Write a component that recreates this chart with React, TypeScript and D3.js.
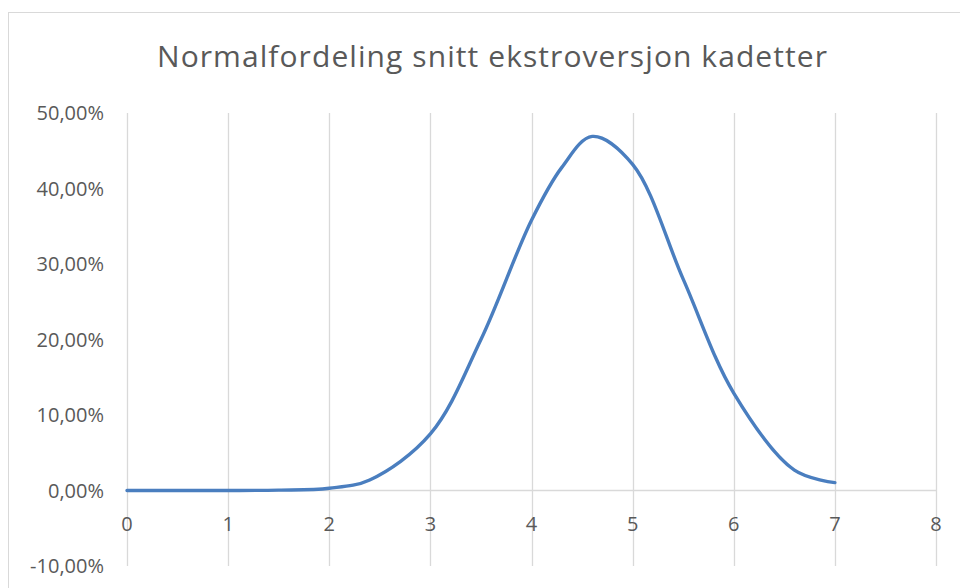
import React from 'react';
import * as d3 from 'd3';

// gjennomsnitt ekstroversjon (x) og sannsynlighetstetthet (y), lest av bildet
const xValues = [0, 0.5, 1, 1.5, 2, 2.4, 3, 3.5, 4, 4.3, 4.6, 5, 5.5, 6, 6.6, 7];
const yValues = [0, 0, 0, 0.0005, 0.003, 0.014, 0.075, 0.2, 0.358, 0.428, 0.469, 0.432, 0.28, 0.129, 0.027, 0.0105];

const xTicks = [0, 1, 2, 3, 4, 5, 6, 7, 8];
const yTicks = [-0.1, 0, 0.1, 0.2, 0.3, 0.4, 0.5];

const title = 'Normalfordeling snitt ekstroversjon kadetter';

const W = 960;
const H = 588;
const FONT = '"Open Sans", "Noto Sans", sans-serif';
const TEXT = '#595959';
const GRID = '#d9d9d9';

const App: React.FC = () => {
  const x = d3.scaleLinear().domain([0, 8]).range([127, 936]);
  const y = d3.scaleLinear().domain([-0.1, 0.5]).range([566, 113]);

  const points = xValues.map((v, i) => [v, yValues[i]] as [number, number]);
  const line = d3.line<[number, number]>()
    .x(d => x(d[0]))
    .y(d => y(d[1]))
    .curve(d3.curveCatmullRom.alpha(0.5));

  const fmt = (v: number) => (v * 100).toFixed(2).replace('.', ',') + '%';

  return (
    <div style={{ position: 'absolute', left: 0, top: 0 }}>
      <svg width={W} height={H} style={{ display: 'block', background: '#fff' }}>
        {/* diagramramme */}
        <rect x={8.5} y={12.5} width={W + 20} height={H + 20} fill="#fff" stroke={GRID} strokeWidth={1} />

        <text x={492} y={67} textAnchor="middle" fontFamily={FONT} fontSize={30} fill={TEXT} textLength={670} lengthAdjust="spacing">
          {title}
        </text>

        {/* loddrette rutenettlinjer */}
        {xTicks.map(t => (
          <line key={'g' + t} x1={Math.round(x(t)) + 0.5} x2={Math.round(x(t)) + 0.5} y1={y(0.5)} y2={y(-0.1)} stroke={GRID} strokeWidth={1.3} />
        ))}

        {/* x-akse ved 0 */}
        <line x1={x(0)} x2={x(8)} y1={Math.round(y(0)) + 0.5} y2={Math.round(y(0)) + 0.5} stroke={GRID} strokeWidth={1.5} />

        {yTicks.map(t => (
          <text key={'y' + t} x={104} y={y(t) + 7} textAnchor="end" fontFamily={FONT} fontSize={20} fill={TEXT}>
            {fmt(t)}
          </text>
        ))}

        {xTicks.map(t => (
          <text key={'x' + t} x={x(t)} y={y(0) + 40} textAnchor="middle" fontFamily={FONT} fontSize={20} fill={TEXT}>
            {t}
          </text>
        ))}

        <path d={line(points) || ''} fill="none" stroke="#4a7ebf" strokeWidth={3.4} strokeLinejoin="round" strokeLinecap="round" />
      </svg>
    </div>
  );
};

export default App;
